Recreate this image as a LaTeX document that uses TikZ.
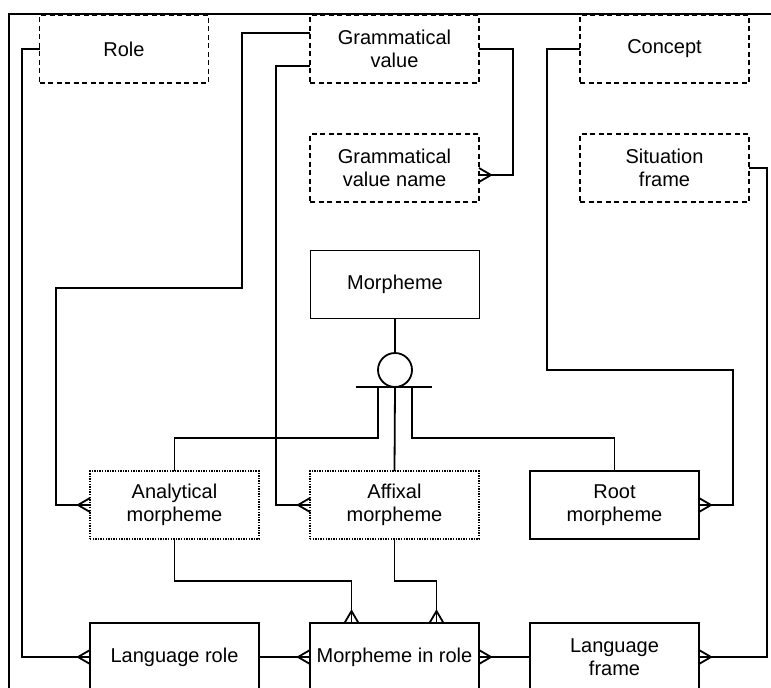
\documentclass[tikz,border=0pt]{standalone}
\usepackage{fontspec}
\setmainfont{Liberation Sans}
\usetikzlibrary{arrows.meta}

% crow's foot end
\pgfdeclarearrow{
  name = Crow,
  parameters = {\the\pgfarrowlength,\the\pgfarrowwidth},
  setup code = {
    \pgfarrowssettipend{0pt}
    \pgfarrowssetlineend{0pt}
    \pgfarrowssetbackend{-\pgfarrowlength}
    \pgfarrowssavethe\pgfarrowlength
    \pgfarrowssavethe\pgfarrowwidth
  },
  drawing code = {
    \pgfpathmoveto{\pgfqpoint{0pt}{.5\pgfarrowwidth}}
    \pgfpathlineto{\pgfqpoint{-\pgfarrowlength}{0pt}}
    \pgfpathlineto{\pgfqpoint{0pt}{-.5\pgfarrowwidth}}
    \pgfusepathqstroke
  },
  defaults = {length=12pt, width=14pt}
}

\begin{document}
\begin{tikzpicture}[x=1pt, y=-1pt, line width=1.8pt, font=\fontsize{20}{23}\selectfont,
	every node/.style={minimum width=169pt, minimum height=68pt, inner sep=0pt, outer sep=0pt, align=center},
	entity/.style={draw},
	ghost/.style={draw, dash pattern=on 5pt off 3.5pt},
	weak/.style={draw, line width=1.4pt, dash pattern=on 1.4pt off 1.2pt},
	link/.style={-Crow}]
	\useasboundingbox (0,0) rectangle (771,688);
	\draw[line width=2.8pt] (9,14) rectangle (790,710);
	
	% reference entities
	\node[ghost] (role) at (124,49) {Role};
	\node[ghost] (gv) at (394.5,49) {Grammatical\\value};
	\node[ghost] (gvn) at (394.5,168) {Grammatical\\value name};
	\node[ghost] (concept) at (664.5,49) {Concept};
	\node[ghost] (sit) at (664.5,168) {Situation\\frame};
	
	% morphemes
	\node[entity] (morph) at (395,284.5) {Morpheme};
	\node[draw, circle, minimum size=34pt] (disj) at (395,370) {};
	\node[weak] (anl) at (174.5,505) {Analytical\\morpheme};
	\node[weak] (aff) at (394.5,505) {Affixal\\morpheme};
	\node[entity] (root) at (614.5,505) {Root\\morpheme};
	
	% roles
	\node[entity] (lrole) at (174.5,657) {Language role};
	\node[entity] (mir) at (394.5,657) {Morpheme in role};
	\node[entity] (lframe) at (614.5,657) {Language\\frame};
	
	% subtypes
	\draw (morph.south) -- (disj.north);
	\draw ([xshift=-39pt]disj.south) -- ([xshift=37pt]disj.south);
	\draw ([xshift=-17pt]disj.south) -- (378,438) -| (anl.north);
	\draw (disj.south) -- (aff.north);
	\draw ([xshift=17pt]disj.south) -- (412,438) -| (root.north);
	
	% relations
	\draw[link] (role.west) -- (22,49) |- (lrole.west);
	\draw[link] ([yshift=16pt]gv.west) -- (242,33) -- (242,288) -- (56,288) |- (anl.west);
	\draw[link] ([yshift=-17pt]gv.west) -- (276,66) |- (aff.west);
	\draw[link] (gv.east) -- (513,49) |- ([yshift=-7pt]gvn.east);
	\draw[link] (concept.west) -- (547,49) -- (547,370) -- (733,370) |- (root.east);
	\draw[link] (sit.east) -- (767,168) |- (lframe.east);
	\draw[link] (anl.south) -- (174.5,581) -| ([xshift=-43pt]mir.north);
	\draw[link] (aff.south) -- (394.5,581) -| ([xshift=42pt]mir.north);
	\draw[link] (lrole.east) -- (mir.west);
	\draw[link] (lframe.west) -- (mir.east);
\end{tikzpicture}
\end{document}
